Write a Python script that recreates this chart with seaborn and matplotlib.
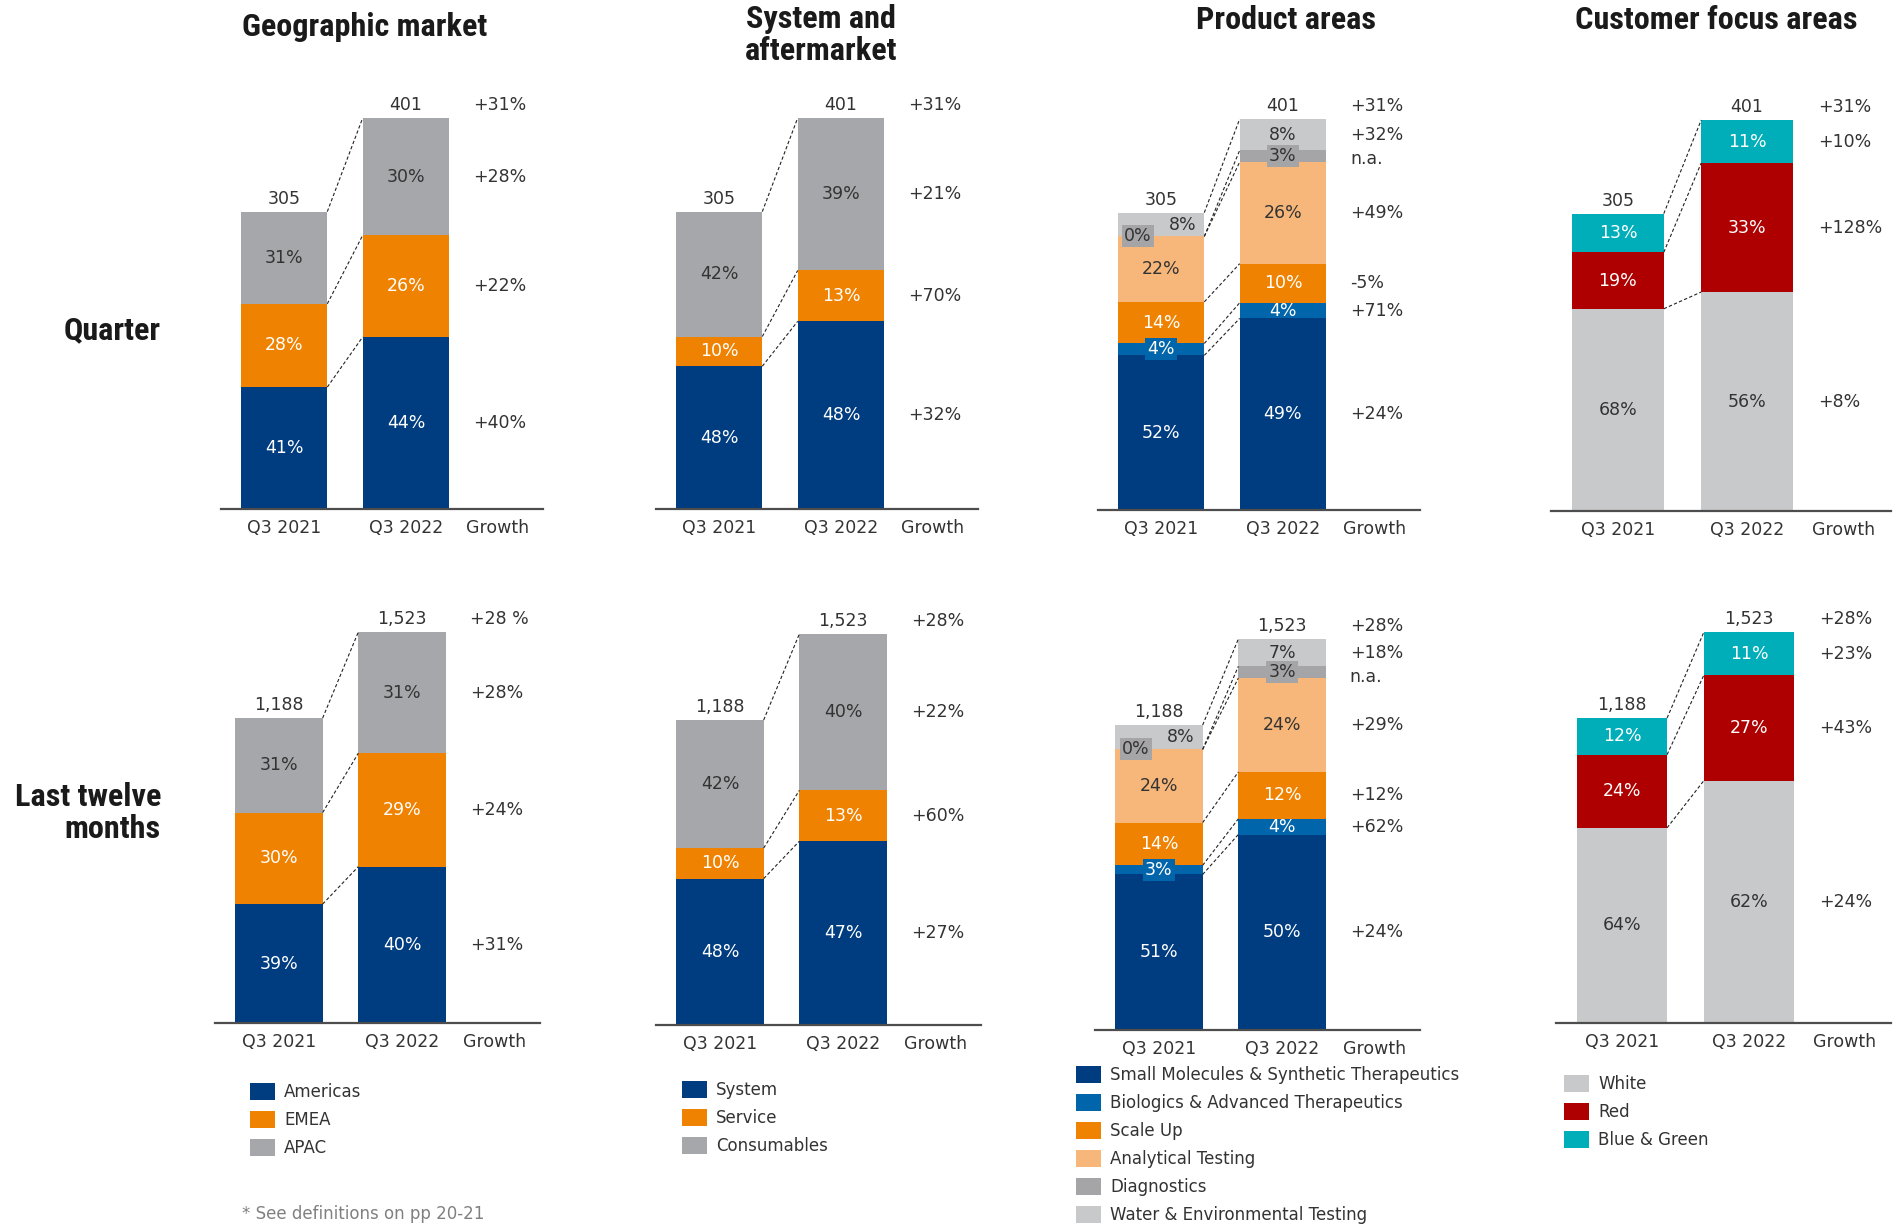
import matplotlib
matplotlib.use("Agg")
import matplotlib.pyplot as plt
import seaborn as sns
import pandas as pd
import numpy as np
from matplotlib import font_manager as fm
from matplotlib.font_manager import FontProperties

sns.set_theme(style="white")
plt.rcParams['font.family'] = ['DejaVu Sans']

# ---------------- data ----------------
periods = ["Q3 2021", "Q3 2022"]
q_totals = [305, 401]
ltm_totals = [1188, 1523]

geo_labels = ["Americas", "EMEA", "APAC"]
geo_q_share = [[41, 44], [28, 26], [31, 30]]
geo_q_growth = ["+40%", "+22%", "+28%"]
geo_q_total_growth = "+31%"
geo_ltm_share = [[39, 40], [30, 29], [31, 31]]
geo_ltm_growth = ["+31%", "+24%", "+28%"]
geo_ltm_total_growth = "+28 %"

sys_labels = ["System", "Service", "Consumables"]
sys_q_share = [[48, 48], [10, 13], [42, 39]]
sys_q_growth = ["+32%", "+70%", "+21%"]
sys_q_total_growth = "+31%"
sys_ltm_share = [[48, 47], [10, 13], [42, 40]]
sys_ltm_growth = ["+27%", "+60%", "+22%"]
sys_ltm_total_growth = "+28%"

prod_labels = ["Small Molecules & Synthetic Therapeutics", "Biologics & Advanced Therapeutics",
               "Scale Up", "Analytical Testing", "Diagnostics", "Water & Environmental Testing"]
prod_q_share = [[52, 49], [4, 4], [14, 10], [22, 26], [0, 3], [8, 8]]
prod_q_growth = ["+24%", "+71%", "-5%", "+49%", "n.a.", "+32%"]
prod_q_total_growth = "+31%"
prod_ltm_share = [[51, 50], [3, 4], [14, 12], [24, 24], [0, 3], [8, 7]]
prod_ltm_growth = ["+24%", "+62%", "+12%", "+29%", "n.a.", "+18%"]
prod_ltm_total_growth = "+28%"

cust_labels = ["White", "Red", "Blue & Green"]
cust_q_share = [[68, 56], [19, 33], [13, 11]]
cust_q_growth = ["+8%", "+128%", "+10%"]
cust_q_total_growth = "+31%"
cust_ltm_share = [[64, 62], [24, 27], [12, 11]]
cust_ltm_growth = ["+24%", "+43%", "+23%"]
cust_ltm_total_growth = "+28%"

# ---------------- styles ----------------
DARKBLUE = "#003C80"
ORANGE = "#EF8200"
GREY = "#A6A7AA"
BIO = "#0065AA"
LIGHTORANGE = "#F7B77A"
DIAG = "#A5A5A8"
LIGHTGREY = "#C8C9CB"
RED = "#AE0000"
TEAL = "#00AEBA"
TXT = "#333333"
WHITE = "#FFFFFF"

geo_colors = [DARKBLUE, ORANGE, GREY]
geo_text = [WHITE, WHITE, TXT]
sys_colors = [DARKBLUE, ORANGE, GREY]
sys_text = [WHITE, WHITE, TXT]
prod_colors = [DARKBLUE, BIO, ORANGE, LIGHTORANGE, DIAG, LIGHTGREY]
prod_text = [WHITE, WHITE, WHITE, TXT, TXT, TXT]
cust_colors = [LIGHTGREY, RED, TEAL]
cust_text = [TXT, WHITE, WHITE]


# ---------------- heading font (condensed bold if available) ----------------
def pick_heading_font():
    prefs = ['Liberation Sans Narrow', 'Roboto Condensed', 'Open Sans Condensed',
             'Noto Sans Condensed', 'DejaVu Sans Condensed', 'Noto Sans', 'Open Sans',
             'Roboto', 'Lato', 'Inter']

    def is_bold(f):
        w = f.weight
        if isinstance(w, str):
            return 'bold' in w.lower()
        return 600 <= w <= 800

    def is_cond(f):
        s = (str(f.stretch) + " " + f.name + " " + f.fname).lower()
        return 'condensed' in s or 'narrow' in s

    cands = [f for f in fm.fontManager.ttflist
             if is_bold(f) and is_cond(f) and f.style == 'normal'
             and 'italic' not in f.fname.lower() and 'semicondensed' not in f.fname.lower()
             and 'extracondensed' not in f.fname.lower()]
    if not cands:
        return FontProperties(family='DejaVu Sans', weight='bold')

    def rank(f):
        try:
            r = prefs.index(f.name)
        except ValueError:
            r = len(prefs)
        w = f.weight if not isinstance(f.weight, str) else 700
        return (r, abs(w - 700))
    cands.sort(key=rank)
    return FontProperties(fname=cands[0].fname)


HEAD_FP = pick_heading_font()

W, H = 1896, 1224
fig = plt.figure(figsize=(W / 100, H / 100), dpi=100)

BAR_W = 0.71
XL, XR = -0.52, 2.12
AX_H = 440
MAX_PX = 391
FS = 12.5


def draw_panel(c1, U, base, totals, shares, growth, total_growth, labels, colors, tcolors):
    left = c1 + XL * U
    width = (XR - XL) * U
    ax = fig.add_axes([left / W, 1 - base / H, width / W, AX_H / H])
    ppu = MAX_PX / max(totals)
    totals_arr = np.array(totals, dtype=float)
    bottoms = np.zeros(2)
    cums = []
    segs = []
    for i, (lab, col) in enumerate(zip(labels, colors)):
        vals = totals_arr * np.array(shares[i]) / 100.0
        df = pd.DataFrame({"period": periods, "value": vals})
        sns.barplot(data=df, x="period", y="value", order=periods, color=col,
                    saturation=1, width=BAR_W, bottom=bottoms.copy(), linewidth=0,
                    errorbar=None, label=lab, ax=ax)
        segs.append((bottoms.copy(), vals))
        bottoms = bottoms + vals
        cums.append(bottoms.copy())
    lg = ax.get_legend()
    if lg is not None:
        lg.remove()

    ax.set_xlim(XL, XR)
    ax.set_ylim(0, max(totals) * AX_H / MAX_PX)
    ax.set_xticks([0, 1, 1.75])
    ax.set_xticklabels(periods + ["Growth"])
    ax.tick_params(axis="x", length=0, pad=7, labelsize=FS, colors=TXT)
    ax.set_yticks([])
    ax.set(xlabel="", ylabel="")
    for s in ["top", "left", "right"]:
        ax.spines[s].set_visible(False)
    ax.spines["bottom"].set_color("#4d4d4d")
    ax.spines["bottom"].set_linewidth(1.6)

    # connectors
    for c in cums:
        ax.plot([BAR_W / 2, 1 - BAR_W / 2], [c[0], c[1]], color="#222222",
                lw=0.8, ls=(0, (3, 2)), zorder=1)

    # segment labels
    for j in range(2):
        prev_zero = False
        for i, (b, v) in enumerate(segs):
            share = shares[i][j]
            y = b[j] + v[j] / 2
            x = j
            bbox = None
            if share == 0:
                x = j - 0.19
                bbox = dict(boxstyle="square,pad=0.12", fc=colors[i], ec="none")
            elif v[j] * ppu < 14:
                bbox = dict(boxstyle="square,pad=0.12", fc=colors[i], ec="none")
            if prev_zero:
                x = j + 0.18
            ax.text(x, y, f"{share}%", ha="center", va="center", fontsize=FS,
                    color=tcolors[i], bbox=bbox, zorder=5)
            prev_zero = share == 0
        ax.annotate(f"{totals[j]:,}", (j, totals[j]), xytext=(0, 13),
                    textcoords="offset pixels", ha="center", va="center",
                    fontsize=FS, color=TXT)

    # growth labels
    gx = 1.55
    y_prev = totals[1] + 13 / ppu
    ax.text(gx, y_prev, total_growth, ha="left", va="center", fontsize=FS, color=TXT)
    for i in reversed(range(len(segs))):
        b, v = segs[i]
        y = b[1] + v[1] / 2
        y = min(y, y_prev - 24 / ppu)
        ax.text(gx, y, growth[i], ha="left", va="center", fontsize=FS, color=TXT)
        y_prev = y
    return ax


def add_legend(ax, x, y):
    ax.legend(loc="upper left", bbox_to_anchor=(x / W, 1 - y / H),
              bbox_transform=fig.transFigure, frameon=False, fontsize=12,
              handlelength=1.5, handleheight=1.15, handletextpad=0.55,
              labelspacing=0.6, borderpad=0, borderaxespad=0, labelcolor=TXT)


# Row 1 : Quarter
draw_panel(284, 122, 509, q_totals, geo_q_share, geo_q_growth, geo_q_total_growth,
           geo_labels, geo_colors, geo_text)
draw_panel(719, 122, 509, q_totals, sys_q_share, sys_q_growth, sys_q_total_growth,
           sys_labels, sys_colors, sys_text)
draw_panel(1161, 122, 510, q_totals, prod_q_share, prod_q_growth, prod_q_total_growth,
           prod_labels, prod_colors, prod_text)
draw_panel(1618, 129, 511, q_totals, cust_q_share, cust_q_growth, cust_q_total_growth,
           cust_labels, cust_colors, cust_text)

# Row 2 : Last twelve months
a1 = draw_panel(279, 123, 1023, ltm_totals, geo_ltm_share, geo_ltm_growth, geo_ltm_total_growth,
                geo_labels, geo_colors, geo_text)
a2 = draw_panel(720, 123, 1025, ltm_totals, sys_ltm_share, sys_ltm_growth, sys_ltm_total_growth,
                sys_labels, sys_colors, sys_text)
a3 = draw_panel(1159, 123, 1030, ltm_totals, prod_ltm_share, prod_ltm_growth, prod_ltm_total_growth,
                prod_labels, prod_colors, prod_text)
a4 = draw_panel(1622, 127, 1023, ltm_totals, cust_ltm_share, cust_ltm_growth, cust_ltm_total_growth,
                cust_labels, cust_colors, cust_text)

add_legend(a1, 250, 1083)
add_legend(a2, 682, 1081)
add_legend(a3, 1076, 1066)
add_legend(a4, 1564, 1075)

# Headings
heads = [
    (365, 27, "Geographic market", "center"),
    (821, 19, "System and", "center"),
    (821, 51, "aftermarket", "center"),
    (1286, 20, "Product areas", "center"),
    (1716, 20, "Customer focus areas", "center"),
    (161, 330, "Quarter", "right"),
    (161, 797, "Last twelve", "right"),
    (161, 829, "months", "right"),
]
head_texts = []
for x, y, s, ha in heads:
    fp = HEAD_FP.copy()
    fp.set_size(20)
    t = fig.text(x / W, 1 - y / H, s, ha=ha, va="center", fontproperties=fp, color="#1a1a1a")
    head_texts.append(t)

# fit the heading size to the reference widths
renderer = fig.canvas.get_renderer()
targets = {"Geographic market": 248, "Customer focus areas": 279, "Product areas": 179}
ratios = []
for t in head_texts:
    if t.get_text() in targets:
        w = t.get_window_extent(renderer).width
        ratios.append(targets[t.get_text()] / w)
hs = 20 * float(np.mean(ratios))
hs = min(hs, 26)
for t in head_texts:
    t.set_fontsize(hs)

fig.text(242 / W, 1 - 1214 / H, "* See definitions on pp 20-21", ha="left", va="center",
         fontsize=12, color="#808080")

fig.savefig("out.png", dpi=100, facecolor="white")
